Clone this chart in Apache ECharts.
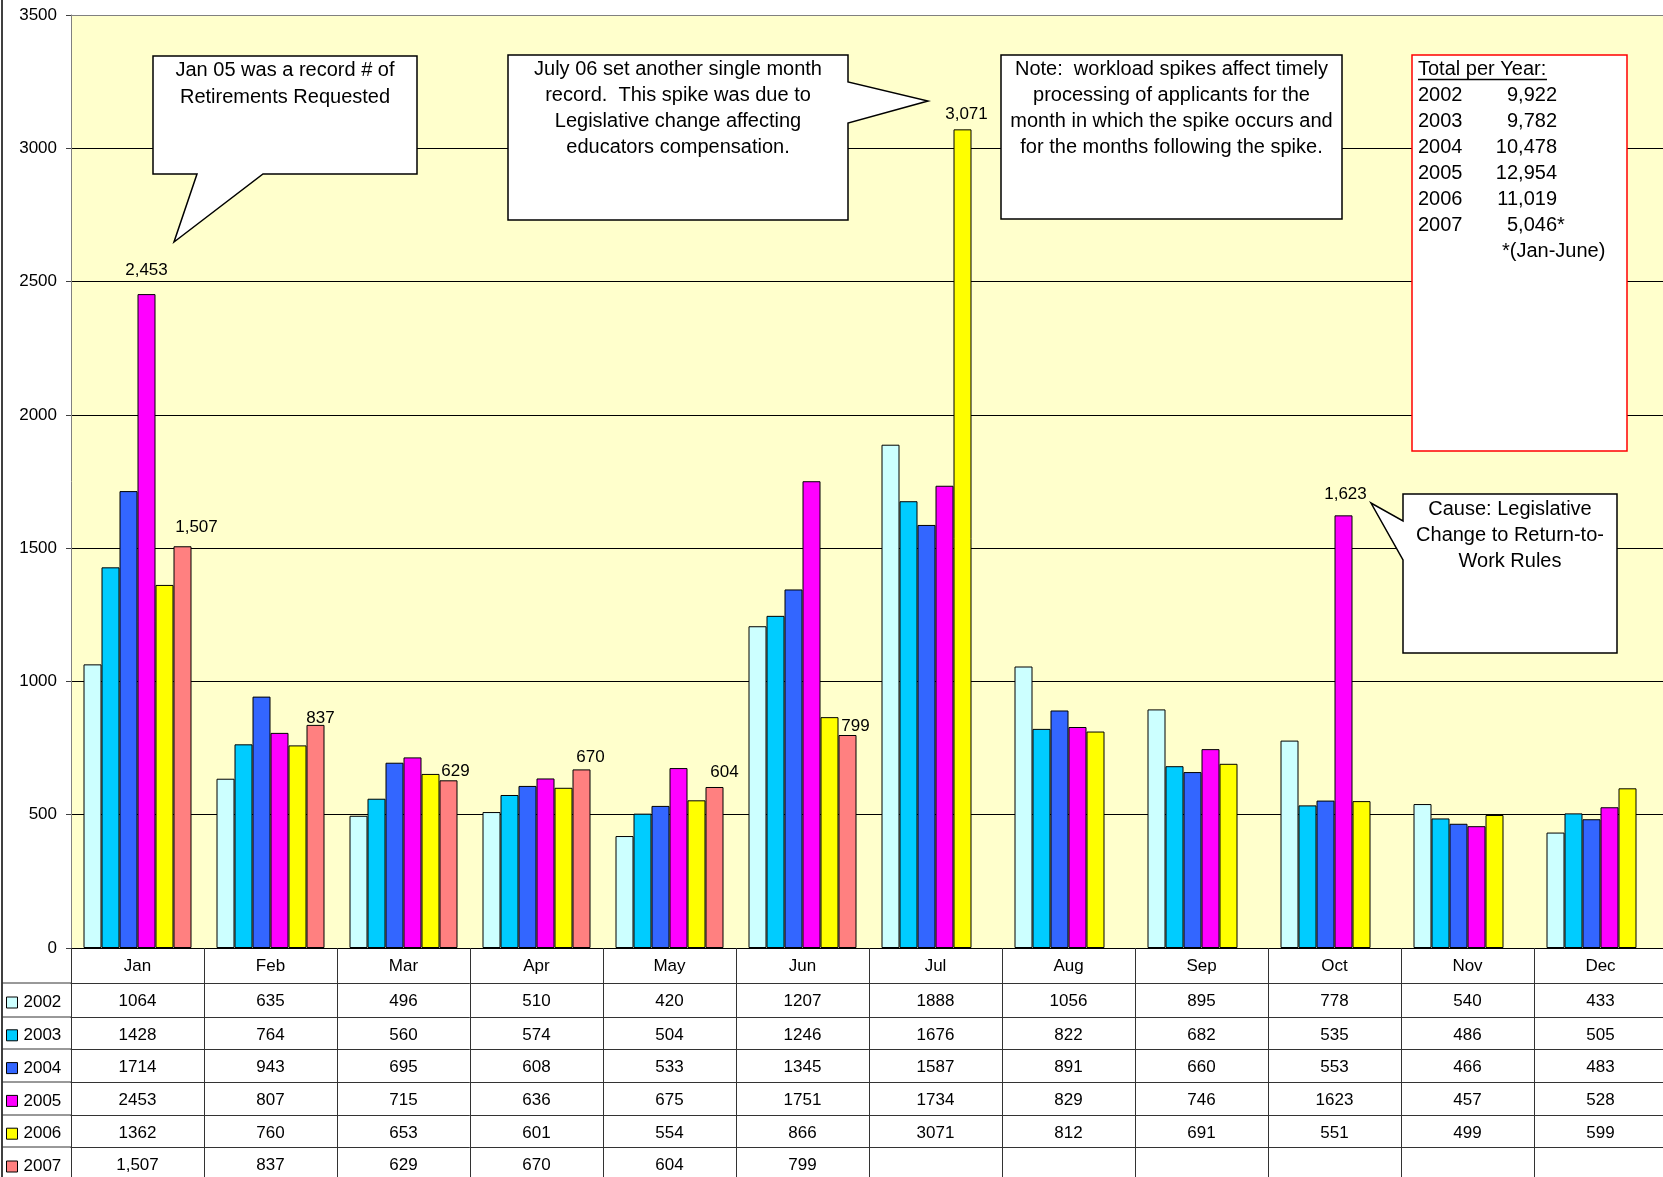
<!DOCTYPE html>
<html><head><meta charset="utf-8">
<script src="https://cdn.jsdelivr.net/npm/echarts@6/dist/echarts.min.js"></script>
<style>html,body{margin:0;padding:0;background:#fff;overflow:hidden;}#c{width:1669px;height:1177px;}</style>
</head><body><div id="c"></div>
<script>
// ---------- data ----------
const months = ['Jan','Feb','Mar','Apr','May','Jun','Jul','Aug','Sep','Oct','Nov','Dec'];
const years = ['2002','2003','2004','2005','2006','2007'];
const v2002 = [1064,635,496,510,420,1207,1888,1056,895,778,540,433];
const v2003 = [1428,764,560,574,504,1246,1676,822,682,535,486,505];
const v2004 = [1714,943,695,608,533,1345,1587,891,660,553,466,483];
const v2005 = [2453,807,715,636,675,1751,1734,829,746,1623,457,528];
const v2006 = [1362,760,653,601,554,866,3071,812,691,551,499,599];
const v2007 = [1507,837,629,670,604,799,null,null,null,null,null,null];
const yMin = 0, yMax = 3500, yStep = 500;
const yearTotals = ['9,922','9,782','10,478','12,954','11,019','5,046'];
const labeledPoints = {'2005':[0,9], '2006':[6], '2007':[0,1,2,3,4,5]};
const tableComma = [false,false,false,false,false,true];

// ---------- style ----------
const seriesValues = [v2002,v2003,v2004,v2005,v2006,v2007];
const colors = ['#CCFFFF','#00CCFF','#3366FF','#FF00FF','#FFFF00','#FF8080'];
const FONT = 'Liberation Sans, Arial, sans-serif';
const labelOffsets = {
  '2005-0':[0,-15], '2005-9':[2,-13], '2006-6':[4,-7],
  '2007-0':[14,-10], '2007-1':[5,2], '2007-2':[7,-1], '2007-3':[9,-4], '2007-4':[10,-6], '2007-5':[8,0]
};
const GL = 71, GT = 15, GW = 1596, GH = 933;
const rowOffsets = [35,69,101,134,167,199];
const rowTicks = [34,32,33,33,32,33];
const fmt = v => Number(v).toLocaleString('en-US');

const series = years.map((y, si) => ({
  name: y, type: 'bar', barWidth: 18, barGap: '0%',
  itemStyle: {color: colors[si], borderColor: '#000', borderWidth: 1},
  data: seriesValues[si].map((v, i) => {
    const lp = labeledPoints[y];
    if (v != null && lp && lp.indexOf(i) >= 0) {
      return {value: v, label: {show: true, position: 'top', distance: 0,
        offset: labelOffsets[y + '-' + i] || [0,0],
        formatter: p => fmt(p.value), color: '#000', fontSize: 17, fontFamily: FONT}};
    }
    return v;
  })
}));

const xAxes = [{
  type: 'category', data: months, gridIndex: 0, position: 'bottom',
  axisLine: {lineStyle: {color: '#000', width: 1}},
  axisTick: {show: true, length: 35, interval: 0, lineStyle: {color: '#333'}},
  axisLabel: {interval: 0, margin: 10, color: '#000', fontSize: 17, fontFamily: FONT},
  splitLine: {show: false}
}];
years.forEach((y, ri) => {
  xAxes.push({
    type: 'category', data: months, gridIndex: 0, position: 'bottom', offset: rowOffsets[ri],
    axisLine: {show: true, lineStyle: {color: '#333', width: 1}},
    axisTick: {show: true, length: rowTicks[ri], interval: 0, lineStyle: {color: '#333'}},
    axisLabel: {interval: 0, margin: 10, color: '#000', fontSize: 17, fontFamily: FONT,
      formatter: (val, idx) => {
        const v = seriesValues[ri][idx];
        if (v == null) return '';
        return tableComma[ri] ? fmt(v) : String(v);
      }},
    splitLine: {show: false}
  });
});

const splitColors = [];
for (let t = yMin; t <= yMax; t += yStep) splitColors.push(t === yMax ? '#808080' : '#000');

const graphic = [];
const L = (x1,y1,x2,y2,c,w) => ({type:'line', z:100, shape:{x1,y1,x2,y2}, style:{stroke:c||'#000', lineWidth:w||1}});
graphic.push(L(2,0,2,1177,'#000',1.5));
[983,1017,1049,1082,1115,1147].forEach(yy => graphic.push(L(2,yy,GL,yy,'#333',1)));
const poly = (pts, stroke, lw) => ({type:'polygon', z:100, shape:{points:pts}, style:{fill:'#fff', stroke:stroke||'#000', lineWidth:lw||1.5}});
const txt = (x, y, t, opts) => ({type:'text', z:101, x, y, style: Object.assign({text:t, fill:'#000',
  font: '20px ' + FONT, align:'center', textAlign:'center', verticalAlign:'top', textVerticalAlign:'top', lineHeight:26}, opts||{})});

// callout 1
graphic.push(poly([[153,56],[417,56],[417,174],[263,174],[174,242],[197,174],[153,174]]));
graphic.push(txt(285, 56.5, 'Jan 05 was a record # of\nRetirements Requested', {lineHeight:27}));
// callout 2
graphic.push(poly([[508,55],[848,55],[848,82],[928,101],[848,123],[848,220],[508,220]]));
graphic.push(txt(678, 56, 'July 06 set another single month\nrecord.  This spike was due to\nLegislative change affecting\neducators compensation.'));
// note
graphic.push(poly([[1001,55],[1342,55],[1342,219],[1001,219]]));
graphic.push(txt(1171.5, 56, 'Note:  workload spikes affect timely\nprocessing of applicants for the\nmonth in which the spike occurs and\nfor the months following the spike.'));
// totals box
graphic.push(poly([[1412,55],[1627,55],[1627,451],[1412,451]], '#FF0000', 1.5));
graphic.push(txt(1418, 56, 'Total per Year:', {align:'left', textAlign:'left'}));
graphic.push(L(1418,79.5,1547,79.5,'#000',1.5));
graphic.push(txt(1418, 82, years.join('\n'), {align:'left', textAlign:'left'}));
graphic.push(txt(1557, 82, yearTotals.join('\n'), {align:'right', textAlign:'right'}));
graphic.push(txt(1557, 212, '*', {align:'left', textAlign:'left'}));
graphic.push(txt(1502, 238, '*(Jan-June)', {align:'left', textAlign:'left'}));
// cause callout
graphic.push(poly([[1403,494],[1617,494],[1617,653],[1403,653],[1403,560],[1371,503],[1403,521]]));
graphic.push(txt(1510, 496, 'Cause: Legislative\nChange to Return-to-\nWork Rules'));

const option = {
  animation: false,
  backgroundColor: '#fff',
  textStyle: {fontFamily: FONT},
  grid: {left: GL, top: GT, width: GW, height: GH, show: true, backgroundColor: '#FFFFCC', borderWidth: 0, outerBoundsMode: 'none', containLabel: false},
  legend: {
    data: years, orient: 'vertical', left: 6, top: 994, height: 240, padding: 0,
    itemWidth: 11, itemHeight: 11, itemGap: 15.8,
    icon: 'rect', selectedMode: false,
    itemStyle: {borderColor: '#000', borderWidth: 1},
    textStyle: {fontSize: 17, lineHeight: 17, color: '#000', fontFamily: FONT, padding: [0,0,0,1]}
  },
  xAxis: xAxes,
  yAxis: {
    type: 'value', min: yMin, max: yMax, interval: yStep,
    axisLine: {show: true, lineStyle: {color: '#808080'}},
    axisTick: {show: true, length: 5, lineStyle: {color: '#404040'}},
    axisLabel: {margin: 14, color: '#000', fontSize: 17, fontFamily: FONT, formatter: v => String(v)},
    splitLine: {show: true, lineStyle: {color: splitColors, width: 1}}
  },
  series: series,
  graphic: graphic
};
echarts.init(document.getElementById('c')).setOption(option);
</script></body></html>
